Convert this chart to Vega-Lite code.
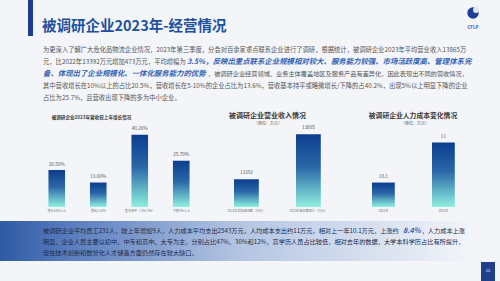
{
  "$schema": "https://vega.github.io/schema/vega-lite/v6.json",
  "width": 500,
  "height": 281,
  "autosize": {"type": "none"},
  "padding": 0,
  "background": "#f3f5f8",
  "config": {"view": {"stroke": null}, "font": "Noto Sans CJK SC", "text": {"font": "Noto Sans CJK SC"}},
  "data": {"values": [{}]},
  "resolve": {"scale": {"x": "independent", "y": "independent"}},
  "layer": [
    {"mark": {"type": "rect", "x": 28, "x2": 33, "y": 0, "y2": 36, "color": "#1b3f8e"}, "encoding": {}},
    {"mark": {"type": "text", "x": 42, "y": 27, "text": "被调研企业2023年-经营情况", "align": "left", "baseline": "middle", "fontSize": 14.5, "fontWeight": "bold", "fill": "#20509f"}, "encoding": {}},
    {"mark": {"type": "point", "x": 473, "y": 13, "filled": true, "size": 130, "color": "#1f3d99", "opacity": 1}, "encoding": {}},
    {"mark": {"type": "point", "x": 476, "y": 10, "filled": true, "size": 35, "color": "#dfe8f8", "opacity": 1}, "encoding": {}},
    {"mark": {"type": "text", "x": 473, "y": 28, "text": "CFLP", "align": "center", "baseline": "middle", "fontSize": 4.5, "fontWeight": "bold", "fill": "#2a5cb0"}, "encoding": {}},
    {"mark": {"type": "rule", "x": 35, "y": 55.5, "x2": 32, "y2": 63.5, "strokeWidth": 3, "color": "#1b3f8e"}, "encoding": {}},
    {
      "data": {"values": [
        {"line": 1, "text": "为更深入了解广大危化品物流企业情况，2023年第三季度，分会对百余家重点联系企业进行了调研，根据统计，被调研企业2023年平均营业收入13865万"},
        {"line": 2, "text": "元，比2022年13392万元增加473万元，平均增幅为"},
        {"line": 4, "text": "其中营收增长在10%以上的占比20.5%，营收增长在5-10%的企业占比为13.6%，营收基本持平或略微增长/下降的占40.2%，出现5%以上明显下降的企业"},
        {"line": 5, "text": "占比为25.7%，且营收出现下降的多为中小企业。"}
      ]},
      "mark": {"type": "text", "x": 43, "align": "left", "baseline": "middle", "fontSize": 6.3, "fill": "#555555"},
      "encoding": {
        "y": {"field": "line", "type": "ordinal", "axis": null, "scale": {"type": "point", "domain": [1, 2, 3, 4, 5], "range": [50, 97.6], "padding": 0}},
        "text": {"field": "text"}
      }
    },
    {"mark": {"type": "text", "x": 187, "y": 61.9, "text": "3.5%，反映出重点联系企业规模相对较大、服务能力较强、市场活跃度高、管理体系完", "align": "left", "baseline": "middle", "fontSize": 7.4, "fontWeight": "bold", "fontStyle": "italic", "fill": "#3263b5"}, "encoding": {}},
    {"mark": {"type": "text", "x": 43, "y": 73.8, "text": "备、体现出了企业规模化、一体化服务能力的优势", "align": "left", "baseline": "middle", "fontSize": 7.4, "fontWeight": "bold", "fontStyle": "italic", "fill": "#3263b5"}, "encoding": {}},
    {"mark": {"type": "text", "x": 208, "y": 73.8, "text": "，被调研企业经营领域、业务主体覆盖地区及服务产品有差异化，因此表现出不同的营收情况，", "align": "left", "baseline": "middle", "fontSize": 6.2, "fill": "#555555"}, "encoding": {}},

    {"mark": {"type": "text", "x": 91.5, "y": 118.3, "text": "被调研企业2023年营收较上年增长情况", "align": "center", "baseline": "middle", "fontSize": 4.6, "fontWeight": "bold", "fill": "#3a3a3a"}, "encoding": {}},
    {"mark": {"type": "text", "x": 267.5, "y": 115.6, "text": "被调研企业营业收入情况", "align": "center", "baseline": "middle", "fontSize": 7, "fontWeight": "bold", "fill": "#3a3a3a"}, "encoding": {}},
    {"mark": {"type": "text", "x": 268, "y": 123.6, "text": "（单位：万元）", "align": "center", "baseline": "middle", "fontSize": 4, "fill": "#555555"}, "encoding": {}},
    {"mark": {"type": "text", "x": 413, "y": 116.4, "text": "被调研企业人力成本变化情况", "align": "center", "baseline": "middle", "fontSize": 6.8, "fontWeight": "bold", "fill": "#3a3a3a"}, "encoding": {}},
    {"mark": {"type": "text", "x": 415, "y": 123.8, "text": "（单位：万元）", "align": "center", "baseline": "middle", "fontSize": 4, "fill": "#555555"}, "encoding": {}},

    {
      "data": {"values": [
        {"category": "增长10%以上", "share": 0.205},
        {"category": "增长5-10%", "share": 0.136},
        {"category": "基本持平（-5%-5%）", "share": 0.402},
        {"category": "下降5%以上", "share": 0.257}
      ]},
      "encoding": {
        "x": {"field": "category", "type": "nominal", "sort": null, "axis": null, "scale": {"range": [36, 202], "paddingInner": 0.6, "paddingOuter": 0.3}}
      },
      "layer": [
        {
          "mark": {"type": "bar", "color": {"gradient": "linear", "x1": 0, "y1": 0, "x2": 0, "y2": 1, "stops": [{"offset": 0, "color": "#0c3d8e"}, {"offset": 0.45, "color": "#2a68a8"}, {"offset": 1, "color": "#8ff0e0"}]}},
          "encoding": {"y": {"field": "share", "type": "quantitative", "axis": null, "scale": {"domain": [0, 0.4444], "range": [207, 127]}}}
        },
        {
          "mark": {"type": "text", "baseline": "middle", "dy": -5.5, "fontSize": 4.7, "fill": "#555555"},
          "encoding": {"y": {"field": "share", "type": "quantitative", "axis": null, "scale": {"domain": [0, 0.4444], "range": [207, 127]}}, "text": {"field": "share", "type": "quantitative", "format": ".2%"}}
        },
        {
          "mark": {"type": "text", "y": 211, "baseline": "middle", "fontSize": 3.1, "fill": "#777777"},
          "encoding": {"text": {"field": "category"}}
        }
      ]
    },
    {
      "data": {"values": [
        {"item": "2022年实际营业额（万元）", "revenue": 13392},
        {"item": "2023年营业额预计（万元）", "revenue": 13865}
      ]},
      "encoding": {
        "x": {"field": "item", "type": "nominal", "sort": null, "axis": null, "scale": {"range": [215.4, 339.4], "paddingInner": 0.6, "paddingOuter": 0.3}}
      },
      "layer": [
        {
          "mark": {"type": "bar", "color": {"gradient": "linear", "x1": 0, "y1": 0, "x2": 0, "y2": 1, "stops": [{"offset": 0, "color": "#0c3d8e"}, {"offset": 0.45, "color": "#2a68a8"}, {"offset": 1, "color": "#8ff0e0"}]}},
          "encoding": {"y": {"field": "revenue", "type": "quantitative", "axis": null, "scale": {"domain": [13100, 13941], "range": [207, 127], "zero": false, "clamp": true}}}
        },
        {
          "mark": {"type": "text", "baseline": "middle", "dy": -6, "fontSize": 4.7, "fill": "#555555"},
          "encoding": {"y": {"field": "revenue", "type": "quantitative", "axis": null, "scale": {"domain": [13100, 13941], "range": [207, 127], "zero": false, "clamp": true}}, "text": {"field": "revenue", "type": "quantitative", "format": "d"}}
        },
        {
          "mark": {"type": "text", "y": 211, "baseline": "middle", "fontSize": 3.1, "fill": "#777777"},
          "encoding": {"text": {"field": "item"}}
        }
      ]
    },
    {
      "data": {"values": [
        {"year": "2022年", "cost": 10.1},
        {"year": "2023年", "cost": 11}
      ]},
      "encoding": {
        "x": {"field": "year", "type": "nominal", "sort": null, "axis": null, "scale": {"range": [354, 472.8], "paddingInner": 0.62, "paddingOuter": 0.3}}
      },
      "layer": [
        {
          "mark": {"type": "bar", "color": {"gradient": "linear", "x1": 0, "y1": 0, "x2": 0, "y2": 1, "stops": [{"offset": 0, "color": "#0c3d8e"}, {"offset": 0.45, "color": "#2a68a8"}, {"offset": 1, "color": "#8ff0e0"}]}},
          "encoding": {"y": {"field": "cost", "type": "quantitative", "axis": null, "scale": {"domain": [9.55, 11.35], "range": [207, 127], "zero": false, "clamp": true}}}
        },
        {
          "mark": {"type": "text", "baseline": "middle", "dy": -6, "fontSize": 4.7, "fill": "#555555"},
          "encoding": {"y": {"field": "cost", "type": "quantitative", "axis": null, "scale": {"domain": [9.55, 11.35], "range": [207, 127], "zero": false, "clamp": true}}, "text": {"field": "cost", "type": "quantitative"}}
        },
        {
          "mark": {"type": "text", "y": 211, "baseline": "middle", "fontSize": 3.1, "fill": "#777777"},
          "encoding": {"text": {"field": "year"}}
        }
      ]
    },

    {"mark": {"type": "rect", "x": 0, "x2": 472, "y": 221, "y2": 261, "color": {"gradient": "linear", "x1": 0, "y1": 0, "x2": 1, "y2": 0, "stops": [{"offset": 0, "color": "#2d5aa5"}, {"offset": 0.12, "color": "#5177ba"}, {"offset": 0.5, "color": "#b3c4e2"}, {"offset": 1, "color": "#f2f5f9"}]}}, "encoding": {}},
    {
      "data": {"values": [
        {"line": 1, "text": "被调研企业平均员工231人，较上年增加9人，人力成本平均支出2543万元，人均成本支出约11万元，相对上一年10.1万元，上涨约"},
        {"line": 2, "text": "明显，企业人员主要以初中、中专和高中、大专为主，分别占比47%、30%和12%，高学历人员占比较低，相对去年的数据，大学本科学历占比有所提升，"},
        {"line": 3, "text": "但在技术创新和数智化人才储备方面仍然存在较大缺口。"}
      ]},
      "mark": {"type": "text", "x": 43, "align": "left", "baseline": "middle", "fontSize": 6.2, "fill": "#1e2b4a"},
      "encoding": {
        "y": {"field": "line", "type": "ordinal", "axis": null, "scale": {"type": "point", "domain": [1, 2, 3], "range": [231, 253.3], "padding": 0}},
        "text": {"field": "text"}
      }
    },
    {"mark": {"type": "text", "x": 403, "y": 231, "text": "8.4%", "align": "left", "baseline": "middle", "fontSize": 7.2, "fontWeight": "bold", "fontStyle": "italic", "fill": "#3263b5"}, "encoding": {}},
    {"mark": {"type": "text", "x": 465, "y": 231, "text": "，人力成本上涨", "align": "right", "baseline": "middle", "fontSize": 6.2, "fill": "#1e2b4a"}, "encoding": {}},

    {"mark": {"type": "rect", "x": 481, "x2": 495, "y": 262, "y2": 281, "color": "#1f3e8c"}, "encoding": {}},
    {"mark": {"type": "text", "x": 488, "y": 271, "text": "12", "align": "center", "baseline": "middle", "fontSize": 4, "fill": "#ffffff"}, "encoding": {}}
  ]
}
